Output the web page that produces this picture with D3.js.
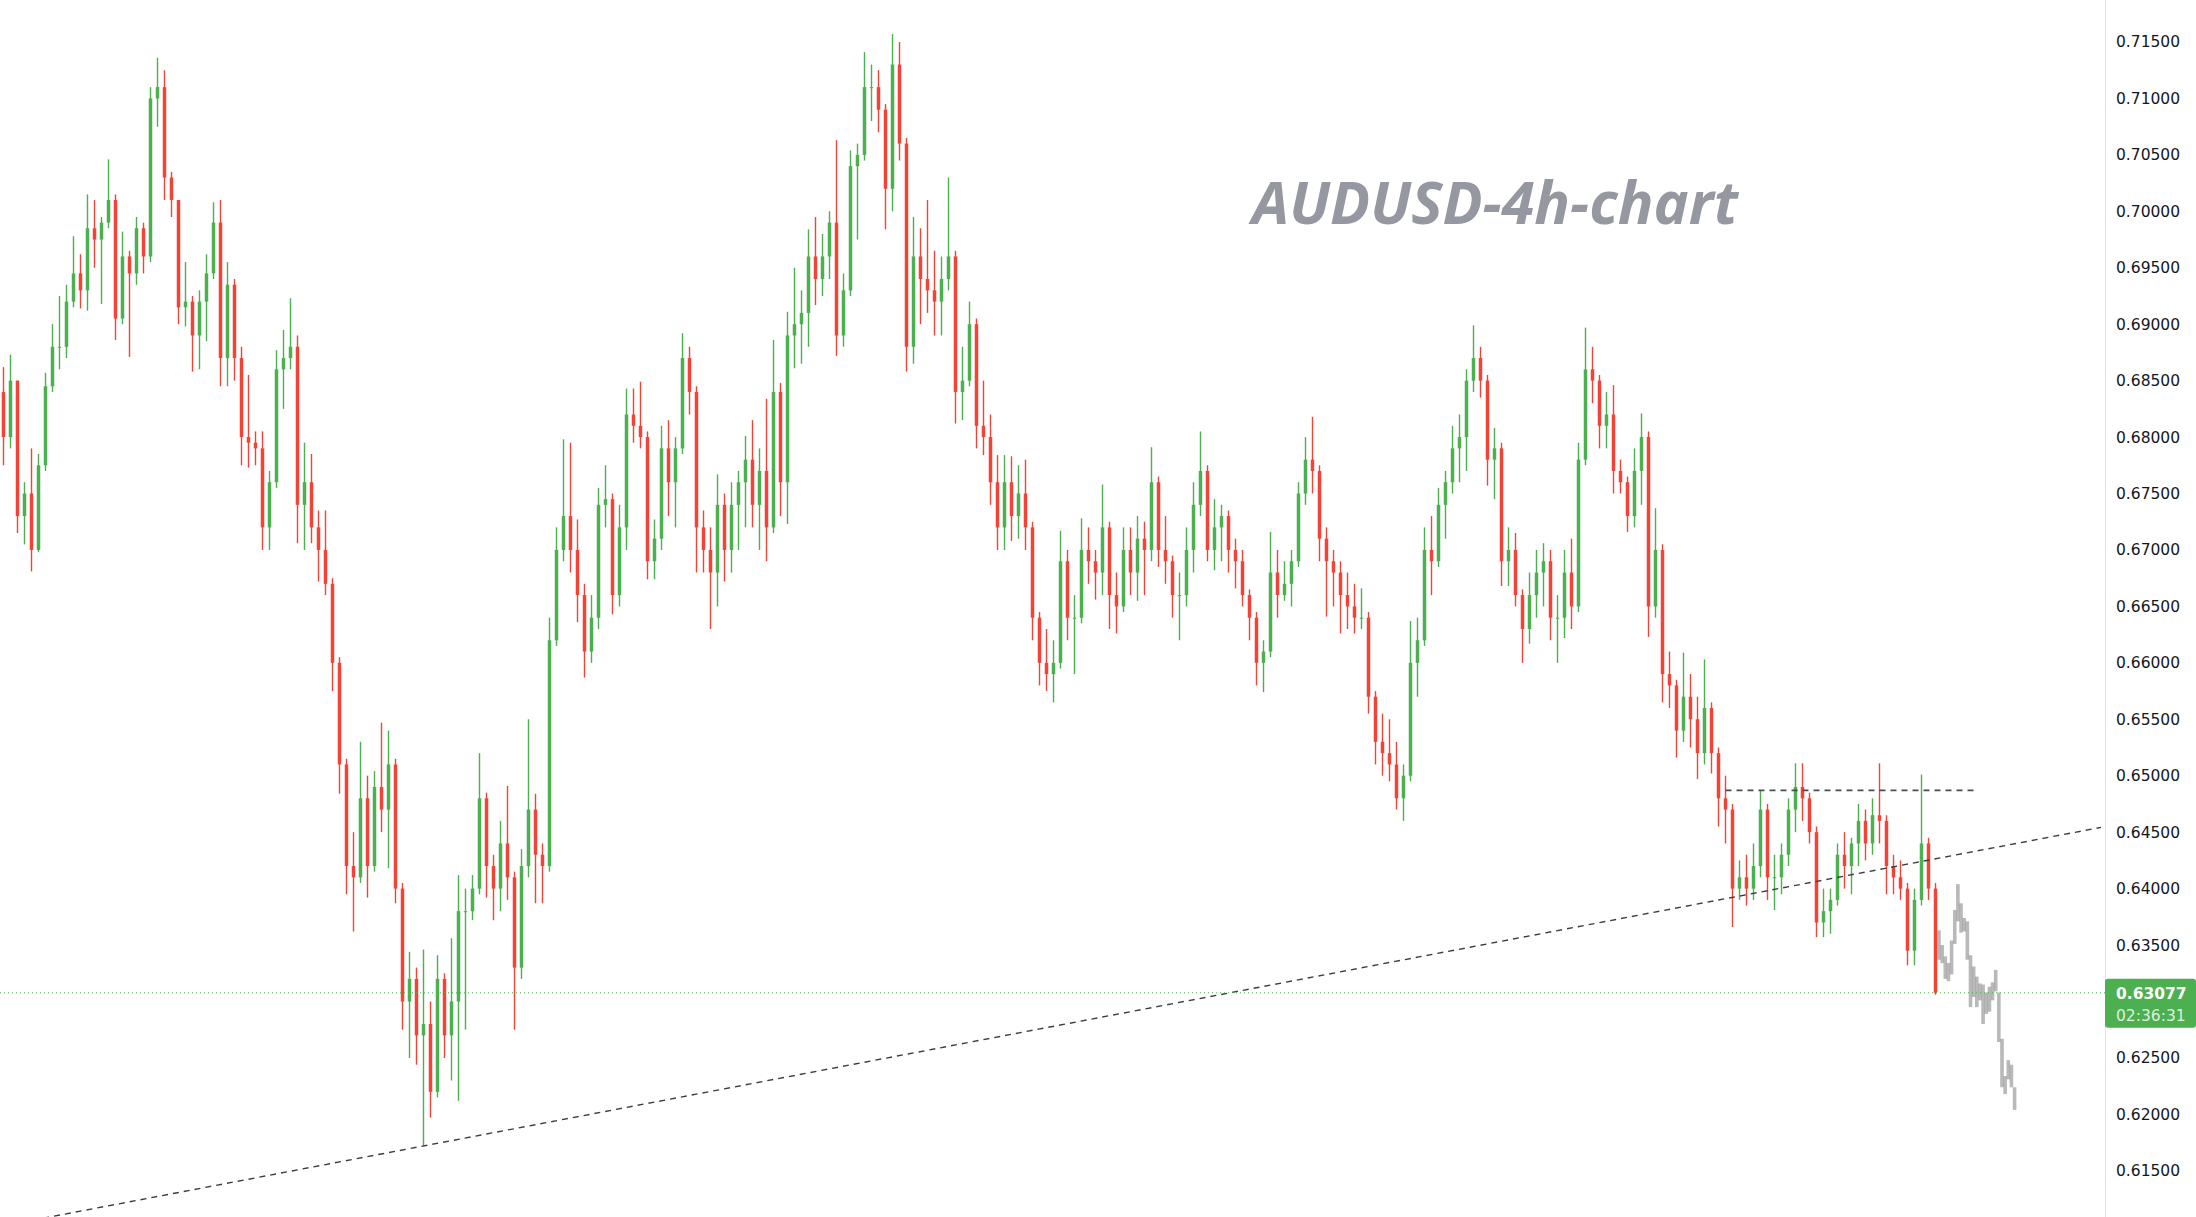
<!DOCTYPE html>
<html>
<head>
<meta charset="utf-8">
<script src="https://cdn.jsdelivr.net/npm/d3@7"></script>
<style>
html,body{margin:0;padding:0;background:#fff;}
svg{display:block;}
</style>
</head>
<body>
<svg id="chart" width="2196" height="1217"></svg>
<script>
// ---------------- DATA ----------------
const firstOpen = 0.6840;
const highs = [
0.6862,0.6873,0.6850,0.6760,0.6790,0.6785,0.6857,0.6900,0.6925,0.6935,
0.6978,0.6962,0.7015,0.7010,0.6995,0.7046,0.7015,0.6982,0.6965,0.6995,
0.6990,0.7110,0.7136,0.7125,0.7035,0.7010,0.6955,0.6925,0.6930,0.6962,
0.7008,0.7010,0.6955,0.6940,0.6880,0.6855,0.6805,0.6805,0.6770,0.6877,
0.6895,0.6923,0.6890,0.6795,0.6785,0.6735,0.6735,0.6675,0.6605,0.6515,
0.6450,0.6530,0.6500,0.6504,0.6547,0.6540,0.6515,0.6405,0.6344,0.6330,
0.6346,0.6300,0.6341,0.6325,0.6356,0.6412,0.6400,0.6412,0.6520,0.6485,
0.6430,0.6460,0.6491,0.6415,0.6435,0.6550,0.6484,0.6440,0.6640,0.6720,
0.6798,0.6795,0.6727,0.6670,0.6660,0.6755,0.6775,0.6750,0.6740,0.6843,
0.6843,0.6849,0.6805,0.6727,0.6810,0.6815,0.6800,0.6892,0.6880,0.6845,
0.6735,0.6720,0.6767,0.6750,0.6760,0.6770,0.6801,0.6815,0.6790,0.6834,
0.6886,0.6848,0.6911,0.6950,0.6930,0.6984,0.6995,0.6980,0.7000,0.7063,
0.6945,0.7054,0.7060,0.7141,0.7130,0.7125,0.7095,0.7157,0.7150,0.7065,
0.6995,0.6985,0.7010,0.6965,0.6960,0.7030,0.6965,0.6880,0.6920,0.6905,
0.6850,0.6820,0.6784,0.6784,0.6783,0.6775,0.6780,0.6725,0.6645,0.6630,
0.6620,0.6717,0.6700,0.6660,0.6728,0.6720,0.6700,0.6758,0.6725,0.6680,
0.6720,0.6720,0.6730,0.6725,0.6791,0.6765,0.6730,0.6695,0.6680,0.6720,
0.6760,0.6805,0.6775,0.6745,0.6740,0.6735,0.6710,0.6700,0.6665,0.6645,
0.6620,0.6716,0.6700,0.6690,0.6700,0.6760,0.6800,0.6818,0.6775,0.6720,
0.6700,0.6690,0.6680,0.6670,0.6666,0.6645,0.6575,0.6555,0.6550,0.6530,
0.6510,0.6637,0.6640,0.6720,0.6730,0.6755,0.6770,0.6810,0.6820,0.6860,
0.6899,0.6880,0.6855,0.6808,0.6795,0.6720,0.6715,0.6665,0.6680,0.6700,
0.6706,0.6700,0.6660,0.6700,0.6710,0.6795,0.6897,0.6880,0.6855,0.6840,
0.6846,0.6780,0.6765,0.6790,0.6821,0.6805,0.6737,0.6705,0.6610,0.6585,
0.6609,0.6590,0.6570,0.6603,0.6565,0.6525,0.6500,0.6475,0.6425,0.6430,
0.6440,0.6487,0.6475,0.6430,0.6440,0.6480,0.6511,0.6511,0.6485,0.6455,
0.6400,0.6400,0.6440,0.6450,0.6445,0.6475,0.6470,0.6480,0.6511,0.6465,
0.6430,0.6425,0.6405,0.6400,0.6501,0.6445,0.6405];
const lows = [
0.6775,0.6790,0.6715,0.6705,0.6681,0.6698,0.6770,0.6840,0.6860,0.6870,
0.6915,0.6914,0.6912,0.6950,0.6918,0.6985,0.6886,0.6900,0.6871,0.6935,
0.6945,0.6955,0.7075,0.7010,0.6995,0.6900,0.6898,0.6858,0.6860,0.6885,
0.6940,0.6845,0.6845,0.6850,0.6775,0.6773,0.6775,0.6700,0.6700,0.6755,
0.6825,0.6860,0.6706,0.6700,0.6706,0.6672,0.6660,0.6575,0.6484,0.6395,
0.6362,0.6405,0.6392,0.6415,0.6450,0.6418,0.6387,0.6275,0.6250,0.6244,
0.6172,0.6197,0.6215,0.6250,0.6230,0.6212,0.6275,0.6372,0.6395,0.6392,
0.6372,0.6380,0.6390,0.6275,0.6320,0.6410,0.6387,0.6387,0.6415,0.6615,
0.6690,0.6680,0.6636,0.6587,0.6600,0.6630,0.6720,0.6643,0.6650,0.6700,
0.6795,0.6790,0.6674,0.6674,0.6700,0.6730,0.6720,0.6785,0.6820,0.6680,
0.6680,0.6630,0.6650,0.6672,0.6680,0.6700,0.6720,0.6720,0.6700,0.6690,
0.6715,0.6730,0.6723,0.6861,0.6865,0.6880,0.6917,0.6925,0.6940,0.6872,
0.6880,0.6925,0.6975,0.7045,0.7080,0.7070,0.6984,0.7000,0.7045,0.6858,
0.6865,0.6900,0.6910,0.6890,0.6890,0.6930,0.6812,0.6815,0.6845,0.6790,
0.6784,0.6740,0.6700,0.6700,0.6708,0.6710,0.6700,0.6620,0.6580,0.6575,
0.6565,0.6595,0.6620,0.6590,0.6635,0.6670,0.6656,0.6660,0.6630,0.6626,
0.6645,0.6660,0.6655,0.6660,0.6690,0.6685,0.6670,0.6640,0.6620,0.6650,
0.6680,0.6730,0.6690,0.6682,0.6690,0.6680,0.6666,0.6650,0.6620,0.6580,
0.6574,0.6605,0.6640,0.6655,0.6650,0.6685,0.6740,0.6750,0.6690,0.6641,
0.6650,0.6626,0.6630,0.6626,0.6630,0.6555,0.6510,0.6500,0.6495,0.6470,
0.6460,0.6495,0.6570,0.6615,0.6660,0.6685,0.6710,0.6750,0.6760,0.6770,
0.6840,0.6835,0.6757,0.6745,0.6668,0.6668,0.6650,0.6600,0.6617,0.6640,
0.6650,0.6620,0.6600,0.6622,0.6630,0.6645,0.6775,0.6830,0.6790,0.6790,
0.6750,0.6750,0.6716,0.6720,0.6740,0.6623,0.6640,0.6565,0.6560,0.6516,
0.6530,0.6525,0.6497,0.6510,0.6502,0.6455,0.6440,0.6366,0.6390,0.6385,
0.6390,0.6410,0.6390,0.6381,0.6395,0.6420,0.6450,0.6460,0.6440,0.6357,
0.6357,0.6360,0.6385,0.6400,0.6395,0.6420,0.6425,0.6430,0.6440,0.6395,
0.6395,0.6390,0.6332,0.6332,0.6385,0.6390,0.6306];
const closes = [
0.6800,0.6850,0.6730,0.6750,0.6700,0.6775,0.6845,0.6880,0.6880,0.6920,
0.6945,0.6930,0.6985,0.6975,0.6990,0.7010,0.6905,0.6960,0.6945,0.6985,
0.6960,0.7100,0.7110,0.7030,0.7010,0.6915,0.6920,0.6890,0.6920,0.6945,
0.6990,0.6870,0.6935,0.6870,0.6800,0.6795,0.6790,0.6720,0.6760,0.6860,
0.6870,0.6880,0.6740,0.6760,0.6720,0.6700,0.6670,0.6600,0.6510,0.6420,
0.6410,0.6480,0.6420,0.6490,0.6470,0.6510,0.6400,0.6300,0.6320,0.6270,
0.6280,0.6220,0.6320,0.6270,0.6300,0.6380,0.6380,0.6400,0.6480,0.6420,
0.6400,0.6440,0.6410,0.6330,0.6420,0.6470,0.6430,0.6420,0.6620,0.6700,
0.6730,0.6700,0.6660,0.6610,0.6640,0.6740,0.6745,0.6660,0.6720,0.6820,
0.6810,0.6800,0.6690,0.6710,0.6790,0.6760,0.6790,0.6870,0.6840,0.6720,
0.6700,0.6680,0.6740,0.6700,0.6740,0.6760,0.6780,0.6740,0.6770,0.6720,
0.6840,0.6760,0.6890,0.6900,0.6910,0.6960,0.6940,0.6960,0.6990,0.6890,
0.6930,0.7040,0.7050,0.7110,0.7110,0.7090,0.7020,0.7130,0.7060,0.6880,
0.6960,0.6940,0.6930,0.6920,0.6940,0.6960,0.6840,0.6850,0.6900,0.6810,
0.6800,0.6760,0.6720,0.6760,0.6730,0.6750,0.6720,0.6640,0.6600,0.6590,
0.6600,0.6690,0.6640,0.6640,0.6700,0.6690,0.6680,0.6720,0.6660,0.6650,
0.6700,0.6680,0.6710,0.6700,0.6760,0.6700,0.6690,0.6660,0.6660,0.6700,
0.6740,0.6770,0.6700,0.6720,0.6730,0.6700,0.6690,0.6660,0.6640,0.6600,
0.6610,0.6680,0.6660,0.6670,0.6690,0.6750,0.6780,0.6770,0.6710,0.6690,
0.6680,0.6660,0.6650,0.6640,0.6640,0.6570,0.6530,0.6520,0.6510,0.6480,
0.6500,0.6600,0.6620,0.6700,0.6690,0.6740,0.6760,0.6790,0.6800,0.6850,
0.6870,0.6850,0.6780,0.6790,0.6690,0.6700,0.6660,0.6630,0.6660,0.6680,
0.6690,0.6640,0.6640,0.6680,0.6650,0.6780,0.6860,0.6850,0.6810,0.6820,
0.6770,0.6760,0.6730,0.6770,0.6800,0.6650,0.6700,0.6590,0.6580,0.6540,
0.6570,0.6550,0.6520,0.6560,0.6520,0.6480,0.6470,0.6400,0.6410,0.6400,
0.6420,0.6470,0.6410,0.6410,0.6430,0.6470,0.6490,0.6480,0.6450,0.6370,
0.6380,0.6390,0.6430,0.6420,0.6440,0.6460,0.6440,0.6465,0.6460,0.6420,
0.6410,0.6400,0.6345,0.6390,0.6440,0.6400,0.63077];

// grey projected bars (drawn after the last candle)
const greyHighs = [0.6363,0.6350,0.6340,0.6334,0.6354,0.6381,0.6404,0.6387,0.6374,0.6371,
                   0.6341,0.6331,0.6322,0.6316,0.6315,0.6308,0.6313,0.6317,0.6328,0.6308,
                   0.6267,0.6234,0.6248,0.6244,0.6224];
const greyLows  = [0.6337,0.6334,0.6320,0.6318,0.6324,0.6351,0.6371,0.6361,0.6362,0.6337,
                   0.6295,0.6304,0.6295,0.6301,0.6280,0.6289,0.6291,0.6301,0.6309,0.6264,
                   0.6224,0.6218,0.6231,0.6224,0.6204];

// 0.630 is hidden behind the last-price label, as in the reference
const priceTicks = [0.615,0.620,0.625,0.635,0.640,0.645,0.650,0.655,0.660,0.665,
                    0.670,0.675,0.680,0.685,0.690,0.695,0.700,0.705,0.710,0.715];
const lastPrice = 0.63077;
const countdown = "02:36:31";
const titleText = "AUDUSD-4h-chart";
// support trendline anchors (candle index, price) and resistance level
const trendIdx = [60, 240];
const trendPrice = [0.6172, 0.6384];
const resistancePrice = 0.6487;
const resistanceRange = [246, 282];

// ---------------- LAYOUT ----------------
const W = 2196, H = 1217, plotRight = 2105;
const svg = d3.select("#chart");
const n = closes.length;
const x = d3.scaleLinear().domain([0, n - 1]).range([3.5, 1935.5]);
const y = d3.scaleLinear().domain([0.615, 0.715]).range([1170.8, 42]);
const opens = closes.map((c, i) => i === 0 ? firstOpen : closes[i - 1]);
const candles = closes.map((c, i) => ({i, o: opens[i], h: highs[i], l: lows[i], c}));

svg.append("rect").attr("width", W).attr("height", H).attr("fill", "#ffffff");

svg.append("defs").append("clipPath").attr("id", "plot")
  .append("rect").attr("x", 0).attr("y", 0).attr("width", plotRight).attr("height", H);

const plot = svg.append("g").attr("clip-path", "url(#plot)");

// title
const title = svg.append("text")
  .attr("x", 1252).attr("y", 224)
  .attr("font-family", "'Open Sans', 'Noto Sans', sans-serif")
  .attr("font-style", "italic").attr("font-weight", 700)
  .attr("font-size", 64).attr("fill", "#9598a1")
  .text(titleText);
const tl = title.node().getComputedTextLength();
if (tl > 0) title.attr("font-size", 64 * 486 / tl);

const up = "#4caf50", down = "#f44336";
const step = x(1) - x(0);

const cg = plot.append("g");
cg.selectAll("line.wick").data(candles).join("line")
  .attr("class", "wick")
  .attr("x1", d => x(d.i)).attr("x2", d => x(d.i))
  .attr("y1", d => y(d.h)).attr("y2", d => y(d.l))
  .attr("stroke", d => d.c >= d.o ? up : down)
  .attr("stroke-width", 1.4);
cg.selectAll("rect.body").data(candles).join("rect")
  .attr("class", "body")
  .attr("x", d => x(d.i) - step * 0.25)
  .attr("width", step * 0.5)
  .attr("y", d => y(Math.max(d.o, d.c)))
  .attr("height", d => Math.max(1, Math.abs(y(d.o) - y(d.c))))
  .attr("fill", d => d.c >= d.o ? up : down);

// grey projection
const greyStart = n - 1 + 0.5, greyStep = 0.45;
plot.append("g").selectAll("rect").data(greyHighs).join("rect")
  .attr("x", (d, j) => x(greyStart + j * greyStep) - 1.8)
  .attr("width", 3.6)
  .attr("y", d => y(d))
  .attr("height", (d, j) => y(greyLows[j]) - y(d))
  .attr("fill", "#8a8a8a").attr("opacity", 0.6);

// support trendline (extended across the plot)
const slope = (trendPrice[1] - trendPrice[0]) / (trendIdx[1] - trendIdx[0]);
const i0 = x.invert(0), i1 = x.invert(plotRight - 4);
const pAt = i => trendPrice[0] + slope * (i - trendIdx[0]);
plot.append("line")
  .attr("x1", x(i0)).attr("y1", y(pAt(i0)))
  .attr("x2", x(i1)).attr("y2", y(pAt(i1)))
  .attr("stroke", "#3a3d45").attr("stroke-width", 1.4)
  .attr("stroke-dasharray", "6,5");

// resistance line
plot.append("line")
  .attr("x1", x(resistanceRange[0])).attr("x2", x(resistanceRange[1]))
  .attr("y1", y(resistancePrice)).attr("y2", y(resistancePrice))
  .attr("stroke", "#4a4d55").attr("stroke-width", 1.6)
  .attr("stroke-dasharray", "6,5");

// last price dotted line
plot.append("line")
  .attr("x1", 0).attr("x2", plotRight)
  .attr("y1", y(lastPrice)).attr("y2", y(lastPrice))
  .attr("stroke", up).attr("stroke-width", 1)
  .attr("stroke-dasharray", "1,3");

// right axis
svg.append("line")
  .attr("x1", plotRight + 0.5).attr("x2", plotRight + 0.5)
  .attr("y1", 0).attr("y2", H)
  .attr("stroke", "#e0e3eb").attr("stroke-width", 1);

const axis = d3.axisRight(y).tickValues(priceTicks).tickSize(0).tickPadding(11)
  .tickFormat(d3.format(".5f"));
const ag = svg.append("g").attr("transform", `translate(${plotRight},0)`).call(axis);
ag.select(".domain").remove();
ag.selectAll("text")
  .attr("font-family", "'DejaVu Sans', Verdana, sans-serif")
  .attr("font-size", 15.5).attr("fill", "#131722");

// last price label
const ly = y(lastPrice);
svg.append("rect")
  .attr("x", plotRight).attr("y", ly - 14).attr("width", W - plotRight).attr("height", 49)
  .attr("rx", 3).attr("fill", up);
svg.append("text").attr("x", plotRight + 11).attr("y", ly + 6)
  .attr("font-family", "'DejaVu Sans', Verdana, sans-serif").attr("font-size", 15.5)
  .attr("font-weight", 700).attr("fill", "#ffffff")
  .text(d3.format(".5f")(lastPrice));
svg.append("text").attr("x", plotRight + 11).attr("y", ly + 28)
  .attr("font-family", "'DejaVu Sans', Verdana, sans-serif").attr("font-size", 15.5)
  .attr("fill", "#ffffff").attr("fill-opacity", 0.82)
  .text(countdown);
</script>
</body>
</html>
